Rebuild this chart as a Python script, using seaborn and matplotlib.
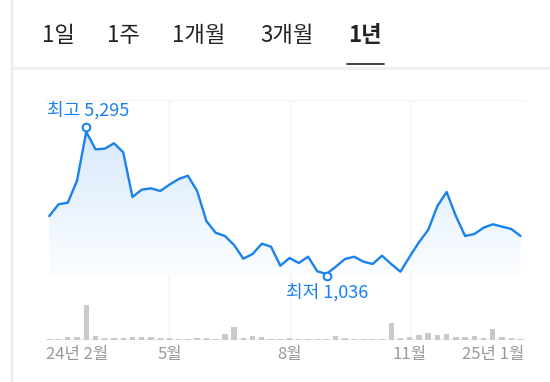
import numpy as np
import pandas as pd
import matplotlib
matplotlib.use("Agg")
import matplotlib.pyplot as plt
import matplotlib.transforms as mtransforms
from matplotlib.colors import LinearSegmentedColormap
import seaborn as sns

# ---- data (weekly, about one year) ----
price = [2772, 3122, 3170, 3829, 5295, 4768, 4786, 4948, 4679, 3341,
         3559, 3601, 3520, 3709, 3879, 3978, 3520, 2622, 2272, 2173,
         1904, 1494, 1635, 1943, 1853, 1284, 1515, 1365, 1554, 1117,
         1036, 1254, 1485, 1554, 1404, 1335, 1584, 1335, 1105, 1554,
         1985, 2353, 3071, 3490, 2772, 2173, 2233, 2422, 2524, 2452,
         2383, 2173]
volume = [1.2, 1.2, 2.7, 3.3, 35.0, 4.3, 2.0, 2.0, 2.3, 3.3,
          2.7, 3.3, 2.0, 1.7, 1.2, 1.2, 2.0, 1.7, 1.2, 6.0,
          13.3, 1.7, 4.0, 3.0, 1.0, 1.0, 1.5, 1.0, 1.0, 1.0,
          1.0, 4.0, 1.7, 1.2, 1.0, 1.0, 1.0, 16.7, 1.7, 3.3,
          5.3, 6.7, 5.3, 6.0, 2.7, 2.7, 4.0, 1.7, 11.0, 3.3,
          1.7, 1.3]
tick_pos = [0, 13, 26, 39, 48]
tick_labels = ["24년 2월", "5월", "8월", "11월", "25년 1월"]
tabs = ["1일", "1주", "1개월", "3개월", "1년"]
tab_x = [42, 107, 172, 260, 348]
high_label = "최고 5,295"
low_label = "최저 1,036"

df = pd.DataFrame({"i": np.arange(len(price)), "price": price, "volume": volume})

BLUE = "#1a82ec"
sns.set_theme(style="white")
plt.rcParams["font.family"] = ["Noto Sans CJK KR", "DejaVu Sans"]

W, H = 550, 382
fig = plt.figure(figsize=(W / 100, H / 100), dpi=100)
fig.patch.set_facecolor("white")

def fr(x0, y0, x1, y1):
    return [x0 / W, 1 - y1 / H, (x1 - x0) / W, (y1 - y0) / H]

# --- price axes ---
L, R = 46, 525
ax = fig.add_axes(fr(L, 100, R, 340))
ax.set_facecolor("none")
n = len(price)
step = 9.24
x0 = 49.3
xlim = ((L - x0) / step, (R - x0) / step)
pmin, pmax = min(price), max(price)
span = pmax - pmin
ylo = pmin - (340 - 274) / 142.3 * span
yhi = pmax + (131.7 - 100) / 142.3 * span
ax.set_xlim(*xlim)
ax.set_ylim(ylo, yhi)

# gradient fill under the line
cmap = LinearSegmentedColormap.from_list("g", ["#fbfdff", "#d8e9fc"])
grad = np.linspace(0, 1, 256).reshape(-1, 1)
im = ax.imshow(grad, extent=[0, n - 1, pmin, pmax], origin="lower", aspect="auto",
               cmap=cmap, zorder=1)
poly = ax.fill_between(df["i"], df["price"], pmin, color="none", lw=0)
im.set_clip_path(poly.get_paths()[0], transform=ax.transData)

sns.lineplot(data=df, x="i", y="price", ax=ax, color=BLUE, lw=1.7, zorder=3)

for g in tick_pos[1:4]:
    ax.axvline(g, color="#f2f3f5", lw=1, zorder=0)

ax.set_xticks([])
ax.set_yticks([])
ax.set_xlabel("")
ax.set_ylabel("")
for s in ["left", "right", "bottom"]:
    ax.spines[s].set_visible(False)
ax.spines["top"].set_color("#f3f4f5")
ax.spines["top"].set_linewidth(1)

ih = int(np.argmax(price))
il = int(np.argmin(price))
up = mtransforms.offset_copy(ax.transData, fig=fig, x=0, y=4.5, units="dots")
dn = mtransforms.offset_copy(ax.transData, fig=fig, x=0, y=-1.5, units="dots")
ax.plot([ih], [price[ih]], marker="o", ms=5.5, mfc="white", mec=BLUE, mew=1.5,
        transform=up, zorder=5)
ax.plot([il], [price[il]], marker="o", ms=5.5, mfc="white", mec=BLUE, mew=1.5,
        transform=dn, zorder=5)
ax.annotate(high_label, (ih, price[ih]), xytext=(1.5, 21), textcoords="offset pixels",
            ha="center", va="center", color=BLUE, fontsize=13)
ax.annotate(low_label, (il, price[il]), xytext=(0.5, -18), textcoords="offset pixels",
            ha="center", va="center", color=BLUE, fontsize=13)

# --- volume axes ---
axv = fig.add_axes(fr(L, 300, R, 340))
axv.set_facecolor("none")
axv.axhline(0, color="#e6e6e6", lw=1.2, zorder=1)
sns.barplot(data=df, x="i", y="volume", ax=axv, native_scale=True, color="#c9c9c9",
            width=0.58, saturation=1, linewidth=0, edgecolor="none", zorder=2)
axv.set_xlim(*xlim)
axv.set_ylim(0, max(volume) * 40 / 35.3)
for s in ["left", "right", "top", "bottom"]:
    axv.spines[s].set_visible(False)
axv.set_yticks([])
axv.set_ylabel("")
axv.set_xlabel("")
axv.set_xticks(tick_pos)
axv.set_xticklabels(tick_labels, fontsize=12, color="#999999")
axv.tick_params(axis="x", length=0, pad=4)
lab0 = axv.get_xticklabels()[0]
lab0.set_ha("left")
lab0.set_transform(lab0.get_transform() + mtransforms.ScaledTranslation(-3.7 / 100, 0, fig.dpi_scale_trans))

# --- header tabs ---
for t, xp in zip(tabs, tab_x):
    bold = t == "1년"
    fig.text(xp / W, 1 - 35 / H, t, ha="left", va="center", fontsize=16,
             color="#222222", fontweight="bold" if bold else "normal")
fig.add_artist(plt.Line2D([347 / W, 384 / W], [1 - 64 / H] * 2, color="#222222", lw=1.2))
fig.add_artist(plt.Line2D([12 / W, 1], [1 - 67.5 / H] * 2, color="#f0f0f0", lw=2))
fig.add_artist(plt.Line2D([12 / W, 12 / W], [0, 1], color="#e8e8e8", lw=1.2))

fig.savefig("out.png", dpi=100, facecolor="white")
